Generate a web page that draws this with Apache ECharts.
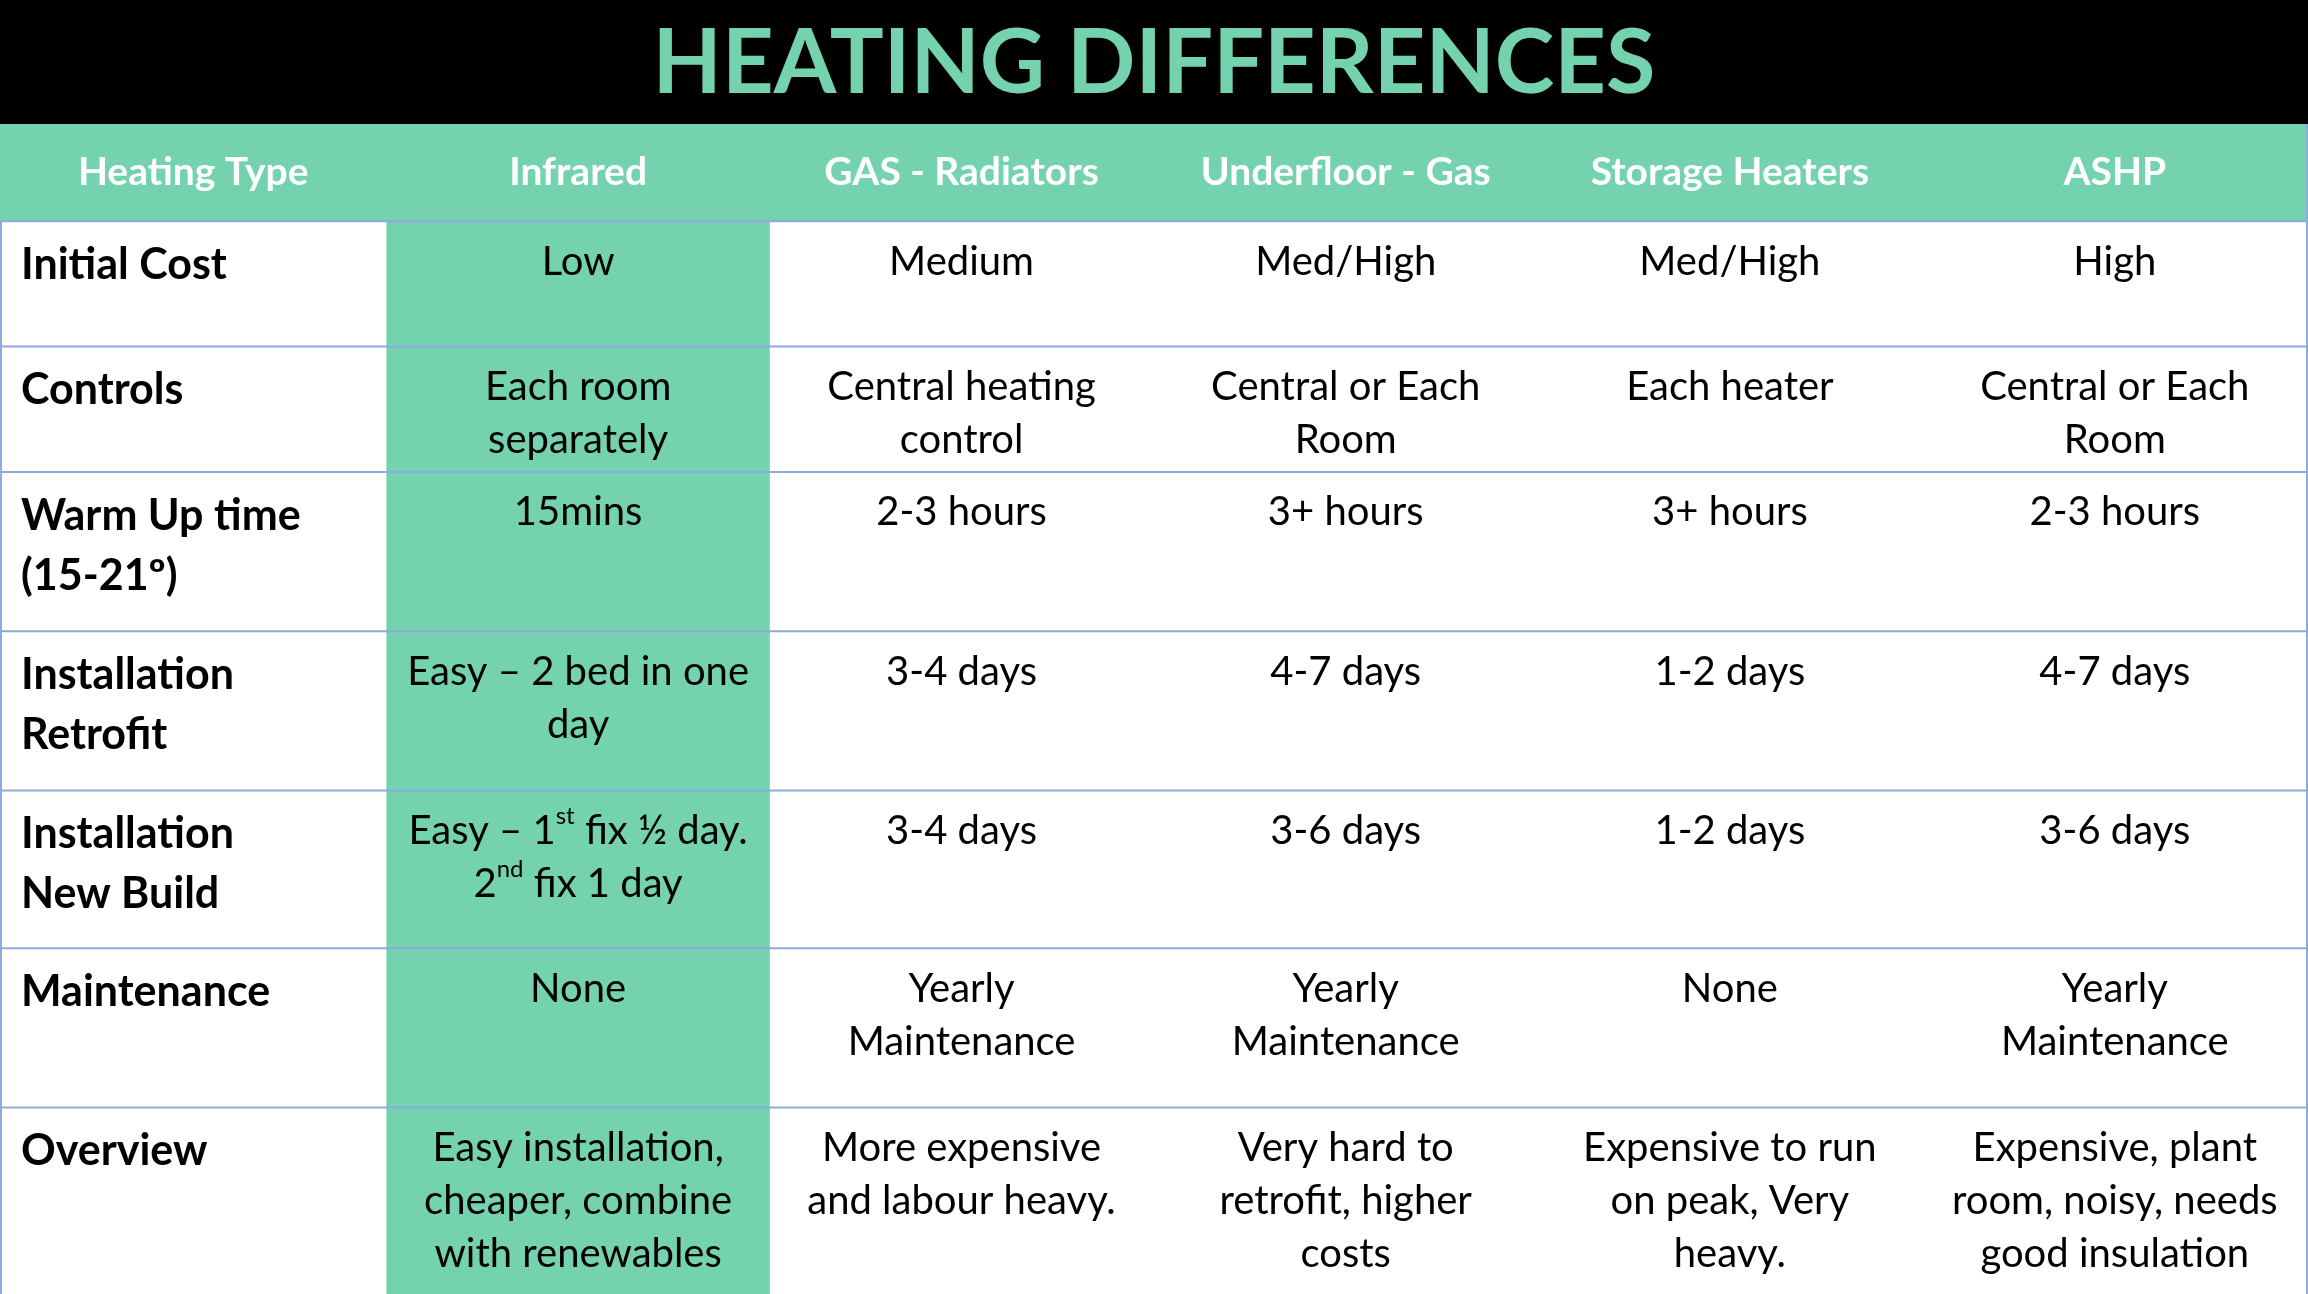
<!DOCTYPE html>
<html>
<head>
<meta charset="utf-8">
<script src="https://cdn.jsdelivr.net/npm/echarts@6/dist/echarts.min.js"></script>
<style>html,body{margin:0;padding:0;background:#fff}#chart{width:2308px;height:1294px}</style>
</head>
<body>
<div id="chart"></div>
<script>
// table content
var title = 'HEATING DIFFERENCES';
var headers = ['Heating Type', 'Infrared', 'GAS - Radiators', 'Underfloor - Gas', 'Storage Heaters', 'ASHP'];
var rowLabels = ['Initial Cost', 'Controls', 'Warm Up time\n(15-21º)', 'Installation\nRetrofit', 'Installation\nNew Build', 'Maintenance', 'Overview'];
var infrared = ['Low', 'Each room\nseparately', '15mins', 'Easy \u2013 2 bed in one\nday',
  'Easy \u2013 1{sup|st} fix \u00bd day.\n2{sup|nd} fix 1 day', 'None', 'Easy installation,\ncheaper, combine\nwith renewables'];
var gasRadiators = ['Medium', 'Central heating\ncontrol', '2-3 hours', '3-4 days', '3-4 days', 'Yearly\nMaintenance', 'More expensive\nand labour heavy.'];
var underfloorGas = ['Med/High', 'Central or Each\nRoom', '3+ hours', '4-7 days', '3-6 days', 'Yearly\nMaintenance', 'Very hard to\nretrofit, higher\ncosts'];
var storageHeaters = ['Med/High', 'Each heater', '3+ hours', '1-2 days', '1-2 days', 'None', 'Expensive to run\non peak, Very\nheavy.'];
var ashp = ['High', 'Central or Each\nRoom', '2-3 hours', '4-7 days', '3-6 days', 'Yearly\nMaintenance', 'Expensive, plant\nroom, noisy, needs\ngood insulation'];
var columns = [infrared, gasRadiators, underfloorGas, storageHeaters, ashp];

// layout
var s = 2308 / 1565;
var colX = [0, 262, 522, 782, 1043, 1303, 1565].map(function (v) { return v * s; });
var rowY = [150, 235, 320, 428, 536, 643, 751, 879].map(function (v) { return v * s; });
var titleH = 84 * s, headH = 150 * s;
var green = '#74D3AE', lineCol = '#8EA9DB';
var font = 'Lato, "Open Sans", sans-serif';

var els = [];
els.push({ type: 'rect', shape: { x: 0, y: 0, width: 2308, height: titleH }, style: { fill: '#000' } });
els.push({ type: 'text', x: 1154, y: titleH / 2 + 2, style: { text: title, fill: green, font: 'bold 90px ' + font, align: 'center', verticalAlign: 'middle' } });
els.push({ type: 'rect', shape: { x: 0, y: titleH, width: 2308, height: headH - titleH }, style: { fill: green } });
els.push({ type: 'rect', shape: { x: colX[1], y: rowY[0], width: colX[2] - colX[1], height: rowY[7] - rowY[0] }, style: { fill: green } });

headers.forEach(function (h, i) {
  els.push({ type: 'text', x: (colX[i] + colX[i + 1]) / 2, y: (titleH + headH) / 2, style: { text: h, fill: '#fff', font: 'bold 39px ' + font, align: 'center', verticalAlign: 'middle' } });
});

// grid lines
for (var r = 0; r <= 7; r++) {
  els.push({ type: 'line', shape: { x1: 0, y1: rowY[r], x2: 2308, y2: rowY[r] }, style: { stroke: lineCol, lineWidth: 2 } });
}
els.push({ type: 'line', shape: { x1: 1, y1: headH, x2: 1, y2: 1294 }, style: { stroke: lineCol, lineWidth: 2 } });
els.push({ type: 'line', shape: { x1: 2307, y1: titleH, x2: 2307, y2: 1294 }, style: { stroke: lineCol, lineWidth: 2 } });

rowLabels.forEach(function (lab, r) {
  els.push({ type: 'text', x: 21, y: rowY[r] + 14, style: { text: lab, fill: '#000', font: 'bold 43px ' + font, lineHeight: 60, align: 'left', verticalAlign: 'top' } });
});

columns.forEach(function (col, c) {
  col.forEach(function (txt, r) {
    els.push({ type: 'text', x: (colX[c + 1] + colX[c + 2]) / 2, y: rowY[r] + 14, style: {
      text: txt, fill: '#000', font: '40px ' + font, lineHeight: 53, align: 'center', verticalAlign: 'top',
      rich: { sup: { font: '24px ' + font, verticalAlign: 'top', padding: [0, 0, 18, 0], fill: '#000' } }
    } });
  });
});

var chart = echarts.init(document.getElementById('chart'));
chart.setOption({ backgroundColor: '#fff', graphic: { elements: els } });
</script>
</body>
</html>
